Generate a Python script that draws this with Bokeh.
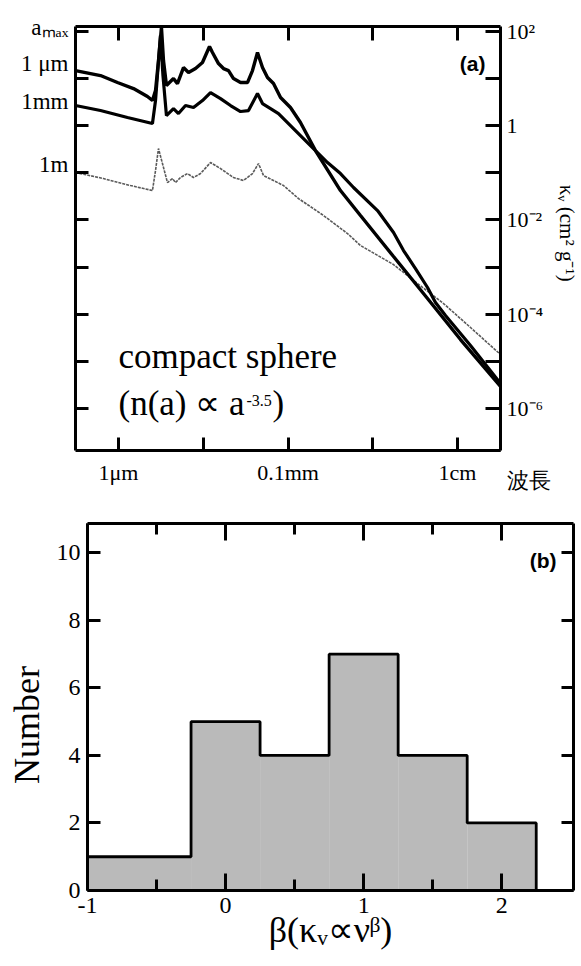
import numpy as np
from bokeh.plotting import figure
from bokeh.models import LogAxis, LinearAxis, FixedTicker, Label, Range1d
from bokeh.embed import file_html
from bokeh.resources import INLINE

# ---------------- Panel (a): opacity vs wavelength (log10 values)
# wavelength in micron (log10), kappa in cm^2 g^-1 (log10)
log_wl_1um = [-0.507, -0.212, -0.012, 0.177, 0.342, 0.401, 0.437, 0.472, 0.507, 0.531,
              0.566, 0.649, 0.696, 0.767, 0.826, 0.909, 0.991, 1.074, 1.109, 1.180,
              1.239, 1.298, 1.357, 1.440, 1.522, 1.581, 1.640, 1.699, 1.758, 1.829,
              1.912, 2.029, 2.147, 2.324, 2.619, 2.855, 3.245, 3.646, 4.035, 4.507]
log_k_1um = [1.166, 1.060, 0.912, 0.784, 0.615, 0.530, 0.742, 1.378, 2.080, 1.378,
             0.848, 0.996, 0.890, 1.230, 1.124, 1.208, 1.336, 1.675, 1.548, 1.314,
             1.208, 1.166, 0.996, 0.912, 0.912, 1.166, 1.548, 1.230, 1.018, 0.890,
             0.594, 0.382, 0.064, -0.530, -1.378, -1.908, -2.777, -3.668, -4.537, -5.533]

log_wl_1mm = [-0.507, -0.212, 0.106, 0.401, 0.437, 0.495, 0.525, 0.566, 0.649, 0.708,
              0.791, 0.885, 0.991, 1.086, 1.204, 1.322, 1.440, 1.534, 1.640, 1.699,
              1.794, 1.888, 1.994, 2.147, 2.324, 2.466, 2.619, 2.773, 3.056, 3.245,
              3.363, 3.504, 3.646, 3.740, 3.858, 4.153, 4.507]
log_k_1mm = [0.424, 0.318, 0.170, 0.042, 0.530, 1.908, 1.060, 0.212, 0.360, 0.254,
             0.424, 0.382, 0.530, 0.700, 0.572, 0.424, 0.297, 0.318, 0.678, 0.466,
             0.360, 0.254, 0.064, -0.212, -0.530, -0.784, -1.018, -1.314, -1.802, -2.268,
             -2.650, -3.032, -3.434, -3.752, -4.028, -4.664, -5.470]

log_wl_1m = [-0.507, -0.177, 0.142, 0.401, 0.437, 0.472, 0.519, 0.578, 0.637, 0.673,
             0.732, 0.814, 0.885, 0.968, 1.086, 1.204, 1.357, 1.475, 1.581, 1.652,
             1.711, 1.829, 1.947, 2.124, 2.419, 2.702, 2.855, 3.245, 3.528, 3.835,
             4.153, 4.507]
log_k_1m = [-0.996, -1.124, -1.272, -1.378, -0.954, -0.488, -0.806, -1.208, -1.124, -1.208,
            -1.102, -1.018, -1.102, -1.018, -0.784, -0.912, -1.102, -1.166, -1.018, -0.806,
            -1.060, -1.166, -1.272, -1.548, -1.908, -2.290, -2.544, -2.947, -3.350, -3.774,
            -4.282, -4.855]

wl_ticks = [1, 10, 100, 1000, 10000]
wl_tick_labels = ["1μm", " ", "0.1mm", " ", "1cm"]
kappa_ticks = [1e-6, 1e-5, 1e-4, 1e-3, 1e-2, 1e-1, 1.0, 10.0, 100.0]
kappa_tick_labels = ["10⁻⁶", " ", "10⁻⁴", " ", "10⁻²", " ", "1", " ", "10²"]
amax_labels = ["aₘₐₓ", "1 μm", "1mm", "1m"]
x_title_a = "波長"
y_title_a = "κᵥ  (cm²  g⁻¹)"

# ---------------- Panel (b): histogram of beta
beta_edges = [-1.0, -0.25, 0.25, 0.75, 1.25, 1.75, 2.25]
beta_counts = [1, 5, 4, 7, 4, 2]
count_ticks = [0, 2, 4, 6, 8, 10]
beta_ticks = [-1, 0, 1, 2]
beta_tick_labels = ["-1", "0", "1", "2"]
beta_minor_ticks = [-0.5, 0.5, 1.5]
x_title_b = "β(κᵥ∝νᵝ)"
y_title_b = "Number"

SERIF = "Liberation Serif"
SANS = "Liberation Sans"

# ---------------- geometry (page pixels; the page has no margin)
FA_L, FA_T, FA_W, FA_H = 75, 26, 425, 424
XA = (-0.507, 4.507)
YA = (-6.89, 2.10)
A_BOTTOM = 45
FB_L, FB_T, FB_W, FB_H = 87, 523, 486, 367
XB = (-1.0, 2.52)
YB = (0.0, 10.87)


def ax_(px):
    return 10 ** (XA[0] + (px - FA_L) / FA_W * (XA[1] - XA[0]))


def ay_(py):
    return 10 ** (YA[1] - (py - FA_T) / FA_H * (YA[1] - YA[0]))


def bx_(px):
    return XB[0] + (px - FB_L) / FB_W * (XB[1] - XB[0])


def by_(py):
    return YB[1] - (py - FB_T) / FB_H * (YB[1] - YB[0])


def style_axis(a, major, minor=0, labels=True, size="22px"):
    a.axis_line_width = 3
    a.axis_line_color = "black"
    a.major_tick_line_width = 3
    a.major_tick_line_color = "black"
    a.major_tick_in = major
    a.major_tick_out = 0
    a.minor_tick_line_width = 3
    a.minor_tick_line_color = "black"
    a.minor_tick_in = minor
    a.minor_tick_out = 0
    a.axis_label_text_font = SERIF
    a.axis_label_text_font_style = "normal"
    a.axis_label_text_color = "black"
    if labels:
        a.major_label_text_font = SERIF
        a.major_label_text_font_size = size
        a.major_label_text_color = "black"
    else:
        a.major_label_text_font_size = "2px"
        a.major_label_text_alpha = 0.0
        a.major_label_standoff = 0


def txt(p, x, y, text, size, font=SERIF, align="left", baseline="alphabetic", bold=False):
    p.add_layout(Label(x=x, y=y, text=text, text_font=font, text_font_size=size,
                       text_align=align, text_baseline=baseline,
                       text_font_style="bold" if bold else "normal",
                       text_color="black"))


# ================= Panel (a)
pa = figure(frame_width=FA_W, frame_height=FA_H,
            x_axis_type="log", y_axis_type="log",
            x_axis_location="below", y_axis_location="right",
            x_range=Range1d(10 ** XA[0], 10 ** XA[1]),
            y_range=Range1d(10 ** YA[0], 10 ** YA[1]),
            min_border_left=FA_L, min_border_right=81,
            min_border_top=FA_T, min_border_bottom=A_BOTTOM,
            toolbar_location=None, output_backend="svg",
            background_fill_color="white", border_fill_color="white")
pa.outline_line_color = None
pa.grid.visible = False

bx = pa.xaxis[0]
bx.ticker = FixedTicker(ticks=wl_ticks, minor_ticks=[])
bx.major_label_overrides = dict(zip(wl_ticks, wl_tick_labels))
style_axis(bx, 13, labels=True, size="22px")
bx.major_label_standoff = 9

# right axis: kappa ticks, plus a blank tick at the bottom corner carrying the "波長" title
corner = ay_(449.5)
ry = pa.yaxis[0]
ry.ticker = FixedTicker(ticks=kappa_ticks + [corner], minor_ticks=[])
ry.major_label_overrides = dict(zip(kappa_ticks + [corner],
                                    kappa_tick_labels + ["\n\n" + x_title_a]))
style_axis(ry, 15, labels=True, size="22px")
ry.major_label_standoff = 6
ry.axis_label = y_title_a
ry.axis_label_text_font_size = "21px"
ry.axis_label_standoff = 1

# left axis: decade marks (minor) and the a_max labels of the curves (major, no mark)
amax_pos = [ay_(26.5), ay_(63), ay_(101), ay_(164)]
ly = LogAxis(ticker=FixedTicker(ticks=amax_pos, minor_ticks=kappa_ticks))
style_axis(ly, 0, 13, labels=True, size="23px")
ly.major_label_overrides = dict(zip(amax_pos, amax_labels))
ly.major_label_standoff = 7
pa.add_layout(ly, "left")

tx = LogAxis(ticker=FixedTicker(ticks=wl_ticks, minor_ticks=[]))
style_axis(tx, 14, labels=False)
pa.add_layout(tx, "above")

wl = lambda a: 10 ** np.asarray(a)
pa.line(wl(log_wl_1m), wl(log_k_1m), line_color="#5a5a5a", line_width=1.6, line_dash="3 1")
pa.line(wl(log_wl_1mm), wl(log_k_1mm), line_color="black", line_width=3.2)
pa.line(wl(log_wl_1um), wl(log_k_1um), line_color="black", line_width=3.4)

txt(pa, ax_(485), ay_(63), "(a)", "21px", font=SANS, align="right", baseline="middle", bold=True)
txt(pa, ax_(118), ay_(356), "compact sphere", "35px")
txt(pa, ax_(118), ay_(403), "(n(a) ∝ a", "35px")
txt(pa, ax_(246), ay_(400), "-3.5", "16px")
txt(pa, ax_(272), ay_(403), ")", "35px")

# ================= Panel (b)
B_TOP = FB_T - (FA_T + FA_H + A_BOTTOM)
pb = figure(frame_width=FB_W, frame_height=FB_H,
            x_range=Range1d(*XB), y_range=Range1d(*YB),
            min_border_left=FB_L, min_border_right=581 - FB_L - FB_W,
            min_border_top=B_TOP, min_border_bottom=966 - FB_T - FB_H - 2,
            toolbar_location=None, output_backend="svg",
            background_fill_color="white", border_fill_color="white")
pb.outline_line_color = None
pb.grid.visible = False

pb.quad(left=beta_edges[:-1], right=beta_edges[1:], bottom=0, top=beta_counts,
        fill_color="#bababa", line_color=None)
ox = np.repeat(beta_edges, 2)
oy = np.concatenate([[0], np.repeat(beta_counts, 2), [0]])
pb.line(ox, oy, line_color="black", line_width=2.8)

bbx = pb.xaxis[0]
bbx.ticker = FixedTicker(ticks=beta_ticks, minor_ticks=beta_minor_ticks)
bbx.major_label_overrides = dict(zip(beta_ticks, beta_tick_labels))
style_axis(bbx, 17, 11, labels=True, size="24px")
bbx.major_label_standoff = 7
bbx.axis_label = x_title_b
bbx.axis_label_text_font_size = "36px"
bbx.axis_label_standoff = -6

lby = pb.yaxis[0]
lby.ticker = FixedTicker(ticks=count_ticks, minor_ticks=[])
style_axis(lby, 13, labels=True, size="24px")
lby.major_label_standoff = 7
lby.axis_label = y_title_b + "\u00a0" * 4
lby.axis_label_text_font_size = "36px"
lby.axis_label_standoff = 7

tbx = LinearAxis(ticker=FixedTicker(ticks=beta_ticks, minor_ticks=beta_minor_ticks))
style_axis(tbx, 17, 11, labels=False)
pb.add_layout(tbx, "above")

rby = LinearAxis(ticker=FixedTicker(ticks=count_ticks, minor_ticks=[]))
style_axis(rby, 12, labels=False)
pb.add_layout(rby, "right")

txt(pb, bx_(556), by_(560), "(b)", "21px", font=SANS, align="right", baseline="middle", bold=True)

open("out.html", "w").write(file_html((pa, pb), INLINE))
